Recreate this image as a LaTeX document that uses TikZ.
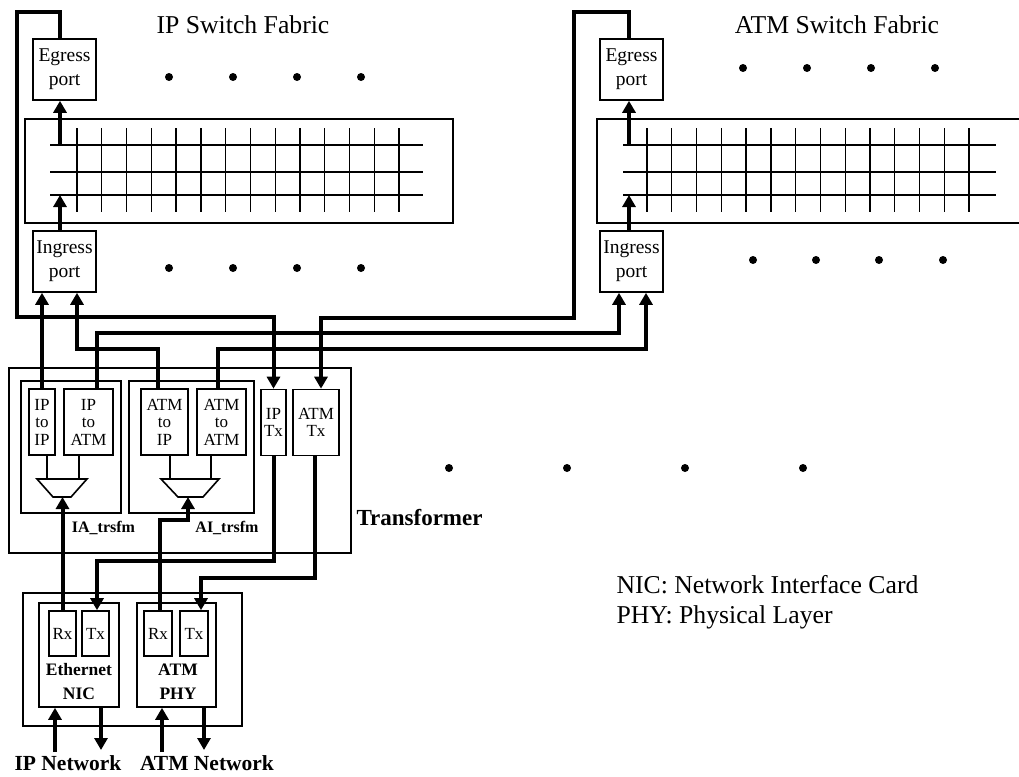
\documentclass[tikz,border=0pt]{standalone}
\usepackage{fontspec}
\setmainfont{Liberation Serif}
\usetikzlibrary{arrows.meta,positioning}

\begin{document}
\begin{tikzpicture}[
  x=1pt, y=-1pt,
  % one unit is one pixel of the sheet, y counts downwards
  port/.style={draw, line width=1.6pt, inner sep=0pt, align=center,
    minimum width=63pt, minimum height=61pt, font=\fontsize{19.5}{24}\selectfont},
  unit/.style={draw, line width=1.6pt, inner sep=0pt, align=center,
    minimum height=66pt, font=\fontsize{17}{17.5}\selectfont},
  frame/.style={draw, line width=1.6pt, inner sep=0pt},
  rim/.style={line width=1.6pt},
  grid line/.style={line width=1.3pt},
  bus/.style={line width=4pt, -{Triangle[length=12pt,width=13pt]}},
  title/.style={font=\fontsize{25.7}{30}\selectfont},
  tag/.style={font=\bfseries\fontsize{16}{24}\selectfont, align=center},
  dot/.style={circle, fill, inner sep=0pt, minimum size=8pt}
]
\useasboundingbox (0,0) rectangle (1019,776);

% switch fabrics
\node[title] (iptitle) at (243,25) {IP Switch Fabric};
\node[title] (atmtitle) at (837,25) {ATM Switch Fabric};
\node[frame, minimum width=428pt, minimum height=104pt] (ipfab) at (239,171) {};
\draw[rim] (1025,119) -- (597,119) -- (597,223) -- (1025,223);
\foreach \y in {145,172,195} {
  \draw[grid line] (50,\y) -- (423,\y);
  \draw[grid line] (623,\y) -- (996,\y);
}
\foreach \i in {0,...,13} {
  \draw[grid line] (77+24.77*\i,128) -- (77+24.77*\i,212);
  \draw[grid line] (647+24.77*\i,128) -- (647+24.77*\i,212);
}
\coordinate (ipxout) at (60,145);
\coordinate (ipxin) at (60,195);
\coordinate (atmxout) at (629,145);
\coordinate (atmxin) at (629,195);

\node[port] (ipeg) at (64.5,69.5) {Egress\\port};
\node[port] (ipin) at (64.5,261.5) {Ingress\\port};
\node[port] (atmeg) at (631.5,69.5) {Egress\\port};
\node[port] (atmin) at (631.5,261.5) {Ingress\\port};

\foreach \x in {169,233,297,361} {
  \node[dot] (ipdotup\x) at (\x,77) {};
  \node[dot] (ipdotdn\x) at (\x,268) {};
}
\foreach \x/\xb in {743/753,807/816,871/879,935/943} {
  \node[dot] (atmdotup\x) at (\x,68) {};
  \node[dot] (atmdotdn\xb) at (\xb,260) {};
}
\foreach \x in {449,567,685,803}
  \node[dot] (moredot\x) at (\x,468) {};

% transformer
\node[frame, minimum width=342pt, minimum height=185pt] (trans) at (180,460.5) {};
\node[font=\bfseries\fontsize{23}{26}\selectfont, anchor=west] (translbl) at (353,518) {Transformer};
\node[frame, minimum width=100pt, minimum height=132pt] (ia) at (71,447) {};
\node[frame, minimum width=125pt, minimum height=132pt] (ai) at (191.5,447) {};
\node[unit, minimum width=26pt] (iptoip) at (42,422) {IP\\to\\IP};
\node[unit, minimum width=49pt] (iptoatm) at (88.5,422) {IP\\to\\ATM};
\node[unit, minimum width=47pt] (atmtoip) at (164.5,422) {ATM\\to\\IP};
\node[unit, minimum width=49pt] (atmtoatm) at (221.5,422) {ATM\\to\\ATM};
\node[unit, minimum width=25pt] (iptx) at (273.5,422.5) {IP\\Tx};
\node[unit, minimum width=46pt] (atmtx) at (316,422.5) {ATM\\Tx};
\node[tag] (ialbl) at (103.5,528) {IA\_trsfm};
\node[tag] (ailbl) at (227,528) {AI\_trsfm};

\draw[rim] (37,479) -- (87,479) -- (71,497) -- (53,497) -- cycle;
\draw[rim] (161,479) -- (219,479) -- (203,497) -- (178,497) -- cycle;
\coordinate (iamuxtop) at (62,479);
\coordinate (iamux) at (62,497);
\coordinate (aimuxtop) at (190,479);
\coordinate (aimux) at (188,497);
\draw[rim] ([xshift=5pt]iptoip.south) -- ([xshift=5pt]iptoip.south |- iamuxtop);
\draw[rim] ([xshift=-9.5pt]iptoatm.south) -- ([xshift=-9.5pt]iptoatm.south |- iamuxtop);
\draw[rim] ([xshift=5.5pt]atmtoip.south) -- ([xshift=5.5pt]atmtoip.south |- aimuxtop);
\draw[rim] ([xshift=-10.5pt]atmtoatm.south) -- ([xshift=-10.5pt]atmtoatm.south |- aimuxtop);

% NIC and PHY
\node[frame, minimum width=219pt, minimum height=133pt] (nic) at (132.5,659.5) {};
\node[frame, minimum width=80pt, minimum height=104pt] (eth) at (79,655) {};
\node[frame, minimum width=79pt, minimum height=104pt] (phy) at (176.5,655) {};
\node[unit, minimum width=27pt, minimum height=45pt] (ethrx) at (62.5,633.5) {Rx};
\node[unit, minimum width=27pt, minimum height=45pt] (ethtx) at (95.5,633.5) {Tx};
\node[unit, minimum width=28pt, minimum height=45pt] (phyrx) at (158,633.5) {Rx};
\node[unit, minimum width=28pt, minimum height=45pt] (phytx) at (194,633.5) {Tx};
\node[tag, font=\bfseries\fontsize{17.5}{24}\selectfont] (ethlbl) at (79,682) {Ethernet\\NIC};
\node[tag, font=\bfseries\fontsize{17.5}{24}\selectfont] (phylbl) at (178,682) {ATM\\PHY};

\node[font=\bfseries\fontsize{21.5}{24}\selectfont] (ipnet) at (68,763) {IP Network};
\node[font=\bfseries\fontsize{21.5}{24}\selectfont] (atmnet) at (207,763) {ATM Network};
\coordinate (ipnetin) at (55,752);
\coordinate (ipnetout) at (101,750);
\coordinate (atmnetin) at (162,752);
\coordinate (atmnetout) at (204,750);

\node[title, anchor=west] (nicnote) at (613,585) {NIC: Network Interface Card};
\node[title, anchor=west] (phynote) at (613,617) {PHY: Physical Layer};

% connections
\draw[bus] (ipin.north -| ipxin) -- (ipxin);
\draw[bus] (ipxout) -- (ipxout |- ipeg.south);
\draw[bus] (atmin.north -| atmxin) -- (atmxin);
\draw[bus] (atmxout) -- (atmxout |- atmeg.south);
\draw[bus] (ipeg.north -| ipxout) -- ++(0,-26) -| (17,317) -| (iptx.north);
\draw[bus] (atmeg.north -| atmxout) -- ++(0,-26) -| (574,318) -| ([xshift=5pt]atmtx.north);
\draw[bus] (iptoip.north) -- (iptoip.north |- ipin.south);
\draw[bus] ([xshift=-6.5pt]atmtoip.north) |- (77,349) -- ([xshift=12.5pt]ipin.south);
\draw[bus] ([xshift=8.5pt]iptoatm.north) |- (619,333) -- ([xshift=-12.5pt]atmin.south);
\draw[bus] ([xshift=-3.5pt]atmtoatm.north) |- (646,349) -- ([xshift=14.5pt]atmin.south);
\draw[bus] (ethrx.north) -- (ethrx.north |- iamux);
\draw[bus] ([xshift=2pt]phyrx.north) |- (188,520) -- (aimux);
\draw[bus] (iptx.south) |- (97,561) -- ([xshift=1.5pt]ethtx.north);
\draw[bus] ([xshift=-1pt]atmtx.south) |- (201,578) -- ([xshift=7pt]phytx.north);
\draw[bus] (ipnetin) -- (ipnetin |- eth.south);
\draw[bus] (eth.south -| ipnetout) -- (ipnetout);
\draw[bus] (atmnetin) -- (atmnetin |- phy.south);
\draw[bus] (phy.south -| atmnetout) -- (atmnetout);
\end{tikzpicture}
\end{document}
